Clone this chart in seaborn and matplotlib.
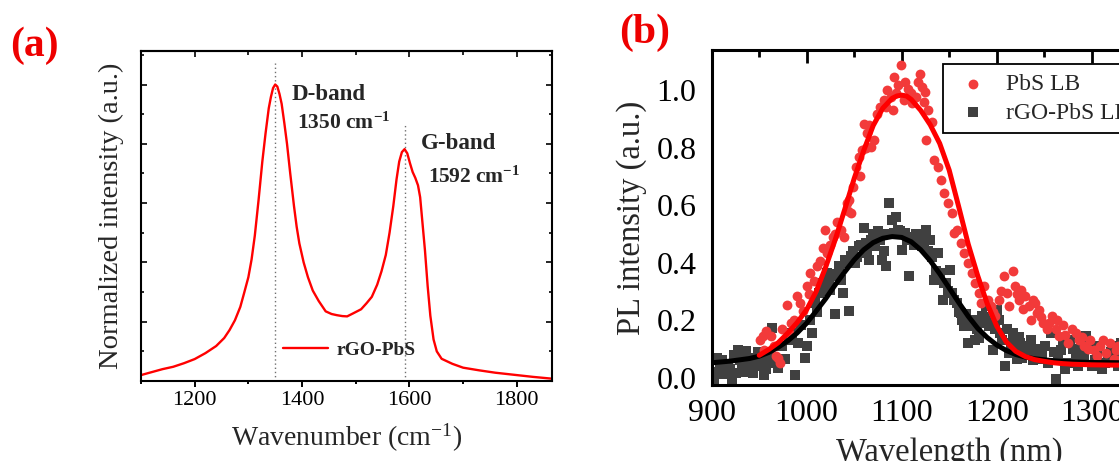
import numpy as np
import matplotlib
matplotlib.use("Agg")
import matplotlib.pyplot as plt
from matplotlib.ticker import MultipleLocator, NullFormatter, FormatStrFormatter
import seaborn as sns

# ---------------- Raman spectrum of rGO-PbS (panel a) ----------------
raman_shift = [1100, 1120, 1140, 1160, 1180, 1200, 1220, 1240, 1255, 1265, 1275, 1285,
               1292, 1300, 1306, 1312, 1319, 1326, 1332, 1338, 1342, 1346, 1350, 1354,
               1358, 1362, 1367, 1372, 1378, 1385, 1390, 1395, 1403, 1411, 1420, 1431,
               1444, 1455, 1465, 1475, 1484, 1495, 1510, 1520, 1530, 1540, 1548, 1556,
               1563, 1570, 1576, 1581, 1586, 1591, 1596, 1601, 1606, 1611, 1616, 1620,
               1624, 1629, 1634, 1639, 1645, 1651, 1660, 1680, 1700, 1730, 1760, 1800,
               1830, 1865]
raman_intensity = [0.020, 0.030, 0.040, 0.048, 0.060, 0.074, 0.094, 0.118, 0.145, 0.172,
                   0.205, 0.250, 0.296, 0.350, 0.410, 0.490, 0.610, 0.740, 0.835, 0.920,
                   0.958, 0.988, 1.000, 0.993, 0.968, 0.935, 0.870, 0.800, 0.700, 0.590,
                   0.520, 0.464, 0.400, 0.350, 0.305, 0.270, 0.235, 0.226, 0.222, 0.219,
                   0.218, 0.228, 0.242, 0.262, 0.284, 0.325, 0.370, 0.425, 0.500, 0.590,
                   0.680, 0.740, 0.772, 0.782, 0.768, 0.735, 0.705, 0.685, 0.660, 0.620,
                   0.540, 0.440, 0.320, 0.220, 0.140, 0.100, 0.075, 0.058, 0.045, 0.036,
                   0.028, 0.020, 0.014, 0.008]
band_names = ["D-band", "G-band"]
band_centers = [1350, 1592]
band_line_tops = [1.073, 0.863]

# ---------------- PL spectra (panel b) ----------------
pbs_wl = [951, 954, 955, 957, 962, 966, 968, 970, 972, 974, 979, 981, 984, 987, 990, 993,
          996, 1000, 1002, 1004, 1008, 1011, 1014, 1017, 1019, 1021, 1025, 1028, 1030, 1032,
          1036, 1039, 1042, 1043, 1045, 1047, 1049, 1052, 1055, 1056, 1058, 1060, 1062, 1064,
          1066, 1068, 1071, 1074, 1077, 1081, 1083, 1085, 1089, 1091, 1092, 1094, 1096, 1099,
          1102, 1104, 1107, 1110, 1111, 1115, 1117, 1119, 1121, 1123, 1125, 1126, 1128, 1132,
          1134, 1138, 1141, 1145, 1149, 1153, 1155, 1158, 1162, 1166, 1170, 1174, 1177, 1181,
          1183, 1187, 1191, 1194, 1196, 1198, 1202, 1205, 1208, 1211, 1213, 1217, 1219, 1221,
          1223, 1226, 1228, 1230, 1234, 1236, 1238, 1240, 1242, 1245, 1247, 1249, 1253, 1255,
          1258, 1262, 1264, 1266, 1270, 1272, 1275, 1279, 1283, 1287, 1290, 1292, 1296, 1298,
          1302, 1306, 1309, 1312, 1315, 1319, 1323, 1326, 1328, 1332, 1338]
pbs_pl = [0.133, 0.144, 0.098, 0.162, 0.145, 0.110, 0.075, 0.069, 0.052, 0.168, 0.254, 0.156,
          0.190, 0.202, 0.283, 0.260, 0.231, 0.318, 0.290, 0.364, 0.335, 0.387, 0.405, 0.450,
          0.514, 0.434, 0.462, 0.491, 0.500, 0.543, 0.514, 0.491, 0.607, 0.580, 0.618, 0.572,
          0.665, 0.734, 0.769, 0.700, 0.792, 0.884, 0.800, 0.850, 0.880, 0.803, 0.827, 0.919,
          0.942, 0.965, 0.940, 1.000, 0.977, 0.931, 1.046, 0.990, 1.017, 1.087, 0.965, 1.029,
          1.006, 0.990, 0.954, 0.977, 1.030, 1.058, 1.012, 0.960, 0.994, 0.827, 0.931, 0.890,
          0.757, 0.734, 0.688, 0.642, 0.607, 0.572, 0.503, 0.514, 0.468, 0.434, 0.399, 0.364,
          0.329, 0.295, 0.260, 0.318, 0.272, 0.249, 0.230, 0.214, 0.272, 0.300, 0.353, 0.295,
          0.250, 0.370, 0.318, 0.290, 0.272, 0.306, 0.240, 0.283, 0.249, 0.200, 0.272, 0.260,
          0.225, 0.237, 0.210, 0.191, 0.168, 0.190, 0.214, 0.168, 0.200, 0.145, 0.185, 0.150,
          0.121, 0.170, 0.156, 0.133, 0.140, 0.110, 0.100, 0.133, 0.098, 0.075, 0.110, 0.130,
          0.087, 0.121, 0.064, 0.098, 0.110, 0.070, 0.090]

rgo_wl = [902, 904, 906, 909, 911, 913, 917, 919, 921, 923, 926, 928, 930, 932, 934, 936,
          938, 940, 943, 945, 947, 949, 951, 953, 955, 957, 960, 962, 964, 966, 970, 974,
          977, 981, 985, 988, 991, 994, 998, 1000, 1004, 1006, 1009, 1011, 1013, 1017, 1019,
          1021, 1023, 1025, 1028, 1030, 1032, 1034, 1036, 1038, 1040, 1042, 1045, 1047, 1049,
          1051, 1053, 1055, 1057, 1060, 1062, 1064, 1066, 1068, 1070, 1072, 1075, 1077, 1079,
          1081, 1083, 1085, 1087, 1090, 1092, 1094, 1096, 1098, 1100, 1102, 1104, 1106, 1108,
          1111, 1113, 1115, 1117, 1119, 1121, 1124, 1126, 1128, 1130, 1132, 1134, 1136, 1138,
          1140, 1143, 1145, 1147, 1149, 1151, 1153, 1155, 1158, 1160, 1162, 1164, 1166, 1168,
          1170, 1172, 1174, 1177, 1179, 1181, 1183, 1185, 1187, 1189, 1192, 1194, 1196, 1198,
          1200, 1202, 1204, 1206, 1209, 1211, 1213, 1215, 1217, 1219, 1221, 1223, 1225, 1227,
          1230, 1233, 1236, 1238, 1240, 1243, 1245, 1248, 1251, 1254, 1257, 1260, 1262, 1265,
          1268, 1270, 1272, 1275, 1277, 1280, 1283, 1286, 1289, 1292, 1294, 1297, 1300, 1303,
          1306, 1308, 1311, 1314, 1317, 1320, 1323, 1326, 1328, 1331, 1334]
rgo_pl = [-0.006, 0.020, 0.069, 0.035, 0.060, 0.012, 0.046, 0.030, -0.006, 0.080, 0.017,
          0.098, 0.060, 0.040, 0.020, 0.092, 0.070, 0.052, 0.017, 0.040, 0.064, 0.090, 0.040,
          0.060, 0.010, 0.029, 0.087, 0.050, 0.173, 0.052, 0.035, 0.110, 0.064, 0.133, 0.156,
          0.008, 0.121, 0.185, 0.069, 0.110, 0.202, 0.156, 0.260, 0.230, 0.295, 0.329, 0.300,
          0.364, 0.330, 0.306, 0.353, 0.220, 0.360, 0.387, 0.340, 0.295, 0.410, 0.399, 0.231,
          0.422, 0.440, 0.399, 0.420, 0.457, 0.460, 0.520, 0.470, 0.434, 0.410, 0.480, 0.500,
          0.457, 0.509, 0.480, 0.410, 0.440, 0.387, 0.500, 0.607, 0.549, 0.503, 0.560, 0.514,
          0.510, 0.445, 0.500, 0.503, 0.480, 0.353, 0.491, 0.460, 0.500, 0.480, 0.490, 0.457,
          0.460, 0.514, 0.440, 0.480, 0.420, 0.341, 0.370, 0.434, 0.364, 0.272, 0.330, 0.329,
          0.300, 0.376, 0.295, 0.270, 0.260, 0.230, 0.225, 0.200, 0.179, 0.220, 0.121, 0.180,
          0.202, 0.133, 0.170, 0.139, 0.190, 0.214, 0.200, 0.249, 0.179, 0.210, 0.098, 0.170,
          0.237, 0.200, 0.156, 0.130, 0.040, 0.170, 0.087, 0.120, 0.156, 0.100, 0.064, 0.140,
          0.121, 0.070, 0.087, 0.110, 0.133, 0.060, 0.098, 0.100, 0.064, 0.080, 0.110, 0.050,
          0.156, 0.090, -0.006, 0.070, 0.098, 0.120, 0.029, 0.050, 0.133, 0.100, 0.064, 0.040,
          0.098, 0.080, 0.145, 0.120, 0.040, 0.060, 0.087, 0.110, 0.029, 0.050, 0.075, 0.090,
          0.110, 0.070, 0.040, 0.120, 0.070]

pbs_fit_wl = [950, 960, 970, 980, 990, 1000, 1010, 1020, 1030, 1040, 1050, 1060, 1070, 1080,
              1090, 1095, 1100, 1105, 1110, 1120, 1130, 1140, 1150, 1160, 1170, 1180, 1190,
              1200, 1210, 1220, 1230, 1240, 1250, 1260, 1270, 1280, 1300, 1320, 1340, 1370,
              1400]
pbs_fit = [0.078, 0.098, 0.122, 0.155, 0.192, 0.237, 0.300, 0.385, 0.480, 0.585, 0.693,
           0.790, 0.877, 0.937, 0.972, 0.980, 0.983, 0.980, 0.968, 0.930, 0.880, 0.815,
           0.722, 0.595, 0.465, 0.355, 0.258, 0.180, 0.125, 0.092, 0.074, 0.063, 0.057,
           0.052, 0.049, 0.047, 0.045, 0.044, 0.044, 0.044, 0.044]

rgo_fit_wl = [900, 920, 940, 950, 960, 970, 980, 990, 1000, 1010, 1020, 1030, 1040, 1050,
              1060, 1070, 1080, 1090, 1100, 1110, 1120, 1130, 1140, 1150, 1160, 1170, 1180,
              1190, 1200, 1210, 1220, 1230, 1240, 1260, 1280, 1300, 1340, 1400]
rgo_fit = [0.052, 0.058, 0.067, 0.075, 0.088, 0.106, 0.128, 0.156, 0.190, 0.232, 0.275,
           0.323, 0.368, 0.410, 0.445, 0.470, 0.485, 0.491, 0.488, 0.473, 0.445, 0.407,
           0.362, 0.312, 0.262, 0.214, 0.172, 0.140, 0.114, 0.095, 0.081, 0.072, 0.066,
           0.059, 0.055, 0.053, 0.052, 0.051]

# ---------------- style ----------------
sns.set_style("white")
plt.rcParams["font.family"] = ["Liberation Serif", "DejaVu Serif"]
plt.rcParams["mathtext.fontset"] = "custom"
plt.rcParams["mathtext.rm"] = "Liberation Serif"
plt.rcParams["mathtext.it"] = "Liberation Serif:italic"
plt.rcParams["mathtext.bf"] = "Liberation Serif:bold"

fig = plt.figure(figsize=(11.19, 4.61), dpi=100)
fig.patch.set_facecolor("white")

# ======================= panel (a) =======================
ax_a = fig.add_axes([0.126, 0.1735, 0.367, 0.7165])
sns.lineplot(x=raman_shift, y=raman_intensity, ax=ax_a, color="#FF0000",
             linewidth=1.7, label="rGO-PbS", sort=False, estimator=None)
for name, center, top in zip(band_names, band_centers, band_line_tops):
    ax_a.plot([center, center], [0, top], color="#707070", linestyle=(0, (1, 2)),
              linewidth=1.0, zorder=1)

ax_a.text(1380, 0.965, band_names[0], fontsize=16.5, fontweight="bold", va="center")
ax_a.text(1390, 0.868, rf"{band_centers[0]} cm$^{{\mathbf{{-1}}}}$", fontsize=15.5,
          fontweight="bold", va="center")
ax_a.text(1622, 0.800, band_names[1], fontsize=16.5, fontweight="bold", va="center")
ax_a.text(1634, 0.688, rf"{band_centers[1]} cm$^{{\mathbf{{-1}}}}$", fontsize=15.5,
          fontweight="bold", va="center")

ax_a.set_xlim(1100, 1865)
ax_a.set_ylim(0, 1.114)
ax_a.xaxis.set_major_locator(MultipleLocator(200))
ax_a.xaxis.set_minor_locator(MultipleLocator(100))
ax_a.yaxis.set_major_locator(MultipleLocator(0.2))
ax_a.yaxis.set_minor_locator(MultipleLocator(0.1))
ax_a.yaxis.set_major_formatter(NullFormatter())
ax_a.tick_params(axis="x", which="both", direction="out", bottom=True, top=False,
                 labelsize=16, pad=3, width=1.4, colors="black")
ax_a.tick_params(axis="x", which="major", length=4.3)
ax_a.tick_params(axis="x", which="minor", length=2.2)
ax_a.tick_params(axis="y", which="both", direction="in", left=True, right=True,
                 labelleft=False, width=1.4)
ax_a.tick_params(axis="y", which="major", length=4.5)
ax_a.tick_params(axis="y", which="minor", length=2.3)
for sp in ax_a.spines.values():
    sp.set_linewidth(1.5)
    sp.set_color("black")

sec = ax_a.secondary_xaxis("top")
sec.xaxis.set_major_locator(MultipleLocator(200))
sec.xaxis.set_minor_locator(MultipleLocator(100))
sec.tick_params(axis="x", which="both", direction="in", labeltop=False, width=1.4)
sec.tick_params(axis="x", which="major", length=4.5)
sec.tick_params(axis="x", which="minor", length=3.0)
sec.spines["top"].set_linewidth(1.5)

ax_a.set_xlabel("Wavenumber (cm$^{-1}$)", fontsize=20, labelpad=8)
ax_a.set_ylabel("Normalized intensity (a.u.)", fontsize=20.5, labelpad=12)

ax_a.legend(loc="center left", bbox_to_anchor=(0.346, 0.094), frameon=False,
            borderpad=0, borderaxespad=0, handlelength=2.3, handletextpad=0.45,
            prop={"family": "Liberation Serif", "weight": "bold", "size": 14})

# ======================= panel (b) =======================
ax_b = fig.add_axes([0.636, 0.165, 0.4245, 0.7266])
sns.scatterplot(x=rgo_wl, y=rgo_pl, ax=ax_b, marker="s", color="#404040", s=42,
                linewidth=0, label="rGO-PbS LB", zorder=2)
sns.scatterplot(x=pbs_wl, y=pbs_pl, ax=ax_b, marker="o", color="#F23A3A", s=50,
                linewidth=0, label="PbS LB", zorder=3)
sns.lineplot(x=rgo_fit_wl, y=rgo_fit, ax=ax_b, color="black", linewidth=3.6,
             sort=False, estimator=None, zorder=4)
sns.lineplot(x=pbs_fit_wl, y=pbs_fit, ax=ax_b, color="#FF0000", linewidth=3.6,
             sort=False, estimator=None, zorder=5)

ax_b.set_xlim(900, 1400)
ax_b.set_ylim(-0.025, 1.14)
ax_b.xaxis.set_major_locator(MultipleLocator(100))
ax_b.xaxis.set_minor_locator(MultipleLocator(50))
ax_b.yaxis.set_major_locator(MultipleLocator(0.2))
ax_b.yaxis.set_minor_locator(MultipleLocator(0.1))
ax_b.yaxis.set_major_formatter(FormatStrFormatter("%.1f"))
ax_b.tick_params(which="both", direction="in", top=True, right=True, width=2.0,
                 colors="black")
ax_b.tick_params(which="major", length=9.5)
ax_b.tick_params(which="minor", length=4.8)
ax_b.tick_params(axis="x", which="major", labelsize=23, pad=10)
ax_b.tick_params(axis="y", which="major", labelsize=23, pad=11)
for sp in ax_b.spines.values():
    sp.set_linewidth(2.2)
    sp.set_color("black")

ax_b.set_xlabel("Wavelength (nm)", fontsize=23.5, labelpad=7)
ax_b.set_ylabel("PL intensity (a.u.)", fontsize=23.5, labelpad=7)

handles, labels = ax_b.get_legend_handles_labels()
order = [labels.index("PbS LB"), labels.index("rGO-PbS LB")]
leg = ax_b.legend([handles[i] for i in order], [labels[i] for i in order],
                  loc="upper left", bbox_to_anchor=(0.487, 0.958), borderaxespad=0,
                  fancybox=False, framealpha=1, edgecolor="black",
                  handlelength=1.75, handletextpad=0.5, labelspacing=0.3,
                  borderpad=0.4, prop={"family": "Liberation Serif", "size": 17})
leg.get_frame().set_linewidth(1.3)

# panel letters
fig.text(34 / 1119, 1 - 46 / 461, "(a)", color="#EE0000", fontsize=30,
         fontweight="bold", ha="center", va="center")
fig.text(645 / 1119, 1 - 33 / 461, "(b)", color="#EE0000", fontsize=30,
         fontweight="bold", ha="center", va="center")

fig.savefig("out.png", dpi=100, facecolor="white")
